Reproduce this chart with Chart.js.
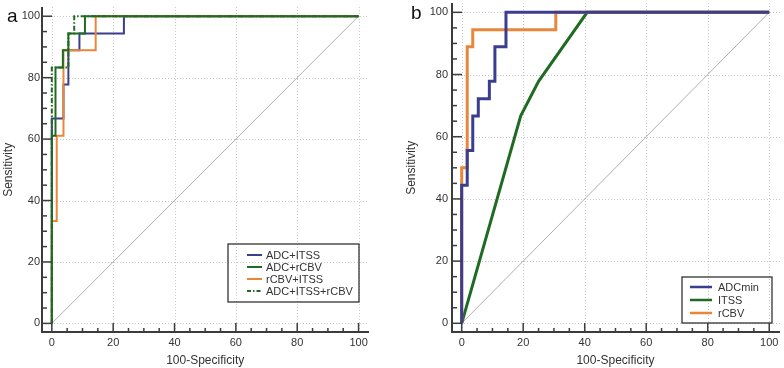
<!DOCTYPE html>
<html><head><meta charset="utf-8">
<script src="https://cdn.jsdelivr.net/npm/chart.js@4/dist/chart.umd.min.js"></script>
<style>
html,body{margin:0;padding:0;background:#fff;width:784px;height:368px;overflow:hidden}
.p{position:absolute;top:0;width:392px;height:368px}
</style></head><body>
<div class="p" style="left:0"><canvas id="ca" width="392" height="368"></canvas></div>
<div class="p" style="left:392px"><canvas id="cb" width="392" height="368"></canvas></div>
<script>
// ---- shared ----
const xTicks = [0, 20, 40, 60, 80, 100];
const yTicks = [0, 20, 40, 60, 80, 100];
const diagX = [0, 100];
const diagY = [0, 100];
const xTitle = '100-Specificity';
const yTitle = 'Sensitivity';

// ---- panel a ----
const aLabels = ['ADC+ITSS', 'ADC+rCBV', 'rCBV+ITSS', 'ADC+ITSS+rCBV'];
const adcItssX = [0, 0, 3.8, 3.8, 5.4, 5.4, 9, 9, 23.5, 23.5, 100];
const adcItssY = [0, 66.7, 66.7, 77.8, 77.8, 88.9, 88.9, 94.4, 94.4, 100, 100];
const adcRcbvX = [0, 0, 1.2, 1.2, 3.6, 3.6, 5.4, 5.4, 10.8, 10.8, 100];
const adcRcbvY = [0, 61.1, 61.1, 83.3, 83.3, 88.9, 88.9, 94.4, 94.4, 100, 100];
const rcbvItssX = [0, 0, 1.6, 1.6, 3.8, 3.8, 14.3, 14.3, 100];
const rcbvItssY = [0, 33.3, 33.3, 61.1, 61.1, 88.9, 88.9, 100, 100];
const allThreeX = [0, 0, 5.4, 5.4, 7.3, 7.3, 100];
const allThreeY = [0, 83.3, 83.3, 94.4, 94.4, 100, 100];

// ---- panel b ----
const bLabels = ['ADCmin', 'ITSS', 'rCBV'];
const adcMinX = [0, 0, 1.8, 1.8, 3.6, 3.6, 5.4, 5.4, 9, 9, 10.8, 10.8, 14.4, 14.4, 100];
const adcMinY = [0, 44.4, 44.4, 55.6, 55.6, 66.7, 66.7, 72.2, 72.2, 77.8, 77.8, 88.9, 88.9, 100, 100];
const itssX = [0, 19.2, 25, 40.8, 100];
const itssY = [0, 66.7, 77.8, 100, 100];
const rcbvX = [0, 0, 1.8, 1.8, 3.6, 3.6, 30.6, 30.6, 100];
const rcbvY = [0, 50, 50, 88.9, 88.9, 94.4, 94.4, 100, 100];

const BLUE = '#3b3d8e', GREEN = '#1f6b22', ORANGE = '#e8873a';
const FONT = "'Liberation Sans', Arial, sans-serif";
const TXT = '#333333';

const pts = (xs, ys) => xs.map((v, i) => ({x: v, y: ys[i]}));

function line(ctx, x1, y1, x2, y2) { ctx.beginPath(); ctx.moveTo(x1, y1); ctx.lineTo(x2, y2); ctx.stroke(); }

function decorPlugin(opt) {
  return {
    id: 'decor',
    beforeDatasetsDraw(chart) {
      const {ctx, chartArea: a, scales: {x, y}} = chart;
      ctx.save();
      ctx.strokeStyle = '#c6c6c6'; ctx.lineWidth = 1; ctx.setLineDash([1, 2]);
      xTicks.forEach(v => { const p = Math.round(x.getPixelForValue(v)) + 0.5; line(ctx, p, a.top, p, a.bottom); });
      yTicks.forEach(v => { const p = Math.round(y.getPixelForValue(v)) + 0.5; line(ctx, a.left, p, a.right, p); });
      ctx.restore();
    },
    afterDraw(chart) {
      const {ctx, chartArea: a, scales: {x, y}} = chart;
      ctx.save();
      ctx.setLineDash([]);
      ctx.strokeStyle = '#3c3c3c';
      ctx.lineWidth = 2;
      line(ctx, a.left, a.top, a.left, a.bottom + 1);
      line(ctx, a.left - 1, a.bottom, a.right, a.bottom);
      ctx.lineWidth = 1.5;
      for (let v = 0; v <= 100; v += 5) {
        const major = v % 20 === 0;
        const py = y.getPixelForValue(v);
        line(ctx, a.left, py, a.left + (major ? 10 : 5), py);
        const px = x.getPixelForValue(v);
        line(ctx, px, a.bottom, px, a.bottom - (major ? 9 : 4));
      }
      // titles
      ctx.fillStyle = TXT;
      ctx.font = '12px ' + FONT;
      ctx.textAlign = 'center'; ctx.textBaseline = 'middle';
      const cx = (x.getPixelForValue(0) + x.getPixelForValue(100)) / 2;
      ctx.fillText(xTitle, cx, 361);
      ctx.save();
      ctx.translate(opt.yTitleX, (y.getPixelForValue(0) + y.getPixelForValue(100)) / 2);
      ctx.rotate(-Math.PI / 2);
      ctx.fillText(yTitle, 0, 0);
      ctx.restore();
      // panel letter
      ctx.fillStyle = '#111';
      ctx.font = '19px ' + FONT;
      ctx.textAlign = 'left'; ctx.textBaseline = 'alphabetic';
      ctx.fillText(opt.letter, opt.letterX, opt.letterY);
      // legend
      const L = opt.legend;
      ctx.strokeStyle = '#333'; ctx.lineWidth = 1.3;
      ctx.strokeRect(L.x, L.y, L.w, L.h);
      ctx.font = '11px ' + FONT;
      ctx.textBaseline = 'middle';
      L.items.forEach((it, i) => {
        const ry = L.row0 + i * L.dy;
        ctx.strokeStyle = it.color; ctx.lineWidth = L.lw;
        ctx.setLineDash(it.dash || []);
        line(ctx, L.lx1, ry, L.lx2, ry);
        ctx.setLineDash([]);
        ctx.fillStyle = TXT;
        ctx.fillText(it.label, L.tx, ry + 0.5);
      });
      ctx.restore();
    }
  };
}

function scaleOpts(min, max, axis, size, pad) {
  return {
    type: 'linear', min, max,
    grid: {display: false, drawTicks: false, tickLength: 0}, border: {display: false},
    ticks: {font: {family: FONT, size: 11}, color: TXT, padding: pad, maxRotation: 0, autoSkip: false},
    afterBuildTicks: s => { s.ticks = (axis === 'x' ? xTicks : yTicks).map(v => ({value: v})); },
    afterFit: s => {
      if (axis === 'x') s.height = size; else s.width = size;
      s.paddingTop = 0; s.paddingBottom = 0; s.paddingLeft = 0; s.paddingRight = 0;
    }
  };
}

function ds(label, xs, ys, color, w, dash) {
  return {label, data: pts(xs, ys), borderColor: color, borderWidth: w, borderDash: dash || [],
    showLine: true, pointRadius: 0, fill: false, tension: 0, borderCapStyle: 'butt', borderJoinStyle: 'miter'};
}

const DASHDOT = [5, 2, 1.5, 2];

new Chart(document.getElementById('ca'), {
  type: 'scatter',
  data: {datasets: [
    ds(aLabels[3], allThreeX, allThreeY, GREEN, 2, DASHDOT),
    ds(aLabels[1], adcRcbvX, adcRcbvY, GREEN, 2),
    ds(aLabels[2], rcbvItssX, rcbvItssY, ORANGE, 2),
    ds(aLabels[0], adcItssX, adcItssY, BLUE, 2),
    ds('ref', diagX, diagY, '#9a9a9a', 0.8)
  ]},
  options: {
    responsive: false, animation: false, devicePixelRatio: 1,
    layout: {padding: {left: 0, right: 23, top: 7, bottom: 0}},
    plugins: {legend: {display: false}, tooltip: {enabled: false}},
    scales: {x: scaleOpts(-3.2, 103.4, 'x', 36, 4), y: scaleOpts(-2.8, 103, 'y', 42, 2)}
  },
  plugins: [decorPlugin({letter: 'a', letterX: 7, letterY: 22, yTitleX: 9,
    legend: {x: 228, y: 244, w: 131, h: 58, row0: 255, dy: 12, lx1: 247, lx2: 262, tx: 266, lw: 2,
      items: [{label: aLabels[0], color: BLUE}, {label: aLabels[1], color: GREEN},
              {label: aLabels[2], color: ORANGE}, {label: aLabels[3], color: GREEN, dash: [4, 2, 1.5, 2]}]}})]
});

new Chart(document.getElementById('cb'), {
  type: 'scatter',
  data: {datasets: [
    ds(bLabels[0], adcMinX, adcMinY, BLUE, 3),
    ds(bLabels[2], rcbvX, rcbvY, ORANGE, 3),
    ds(bLabels[1], itssX, itssY, GREEN, 3),
    ds('ref', diagX, diagY, '#9a9a9a', 0.8)
  ]},
  options: {
    responsive: false, animation: false, devicePixelRatio: 1,
    layout: {padding: {left: 0, right: 4, top: 3, bottom: 0}},
    plugins: {legend: {display: false}, tooltip: {enabled: false}},
    scales: {x: scaleOpts(-3.15, 103.5, 'x', 36, 4), y: scaleOpts(-2.8, 103, 'y', 60, 4)}
  },
  plugins: [decorPlugin({letter: 'b', letterX: 19, letterY: 19, yTitleX: 20,
    legend: {x: 290, y: 277, w: 90, h: 46, row0: 287, dy: 13, lx1: 298, lx2: 320, tx: 326, lw: 2.5,
      items: [{label: bLabels[0], color: BLUE}, {label: bLabels[1], color: GREEN}, {label: bLabels[2], color: ORANGE}]}})]
});
</script>
</body></html>
